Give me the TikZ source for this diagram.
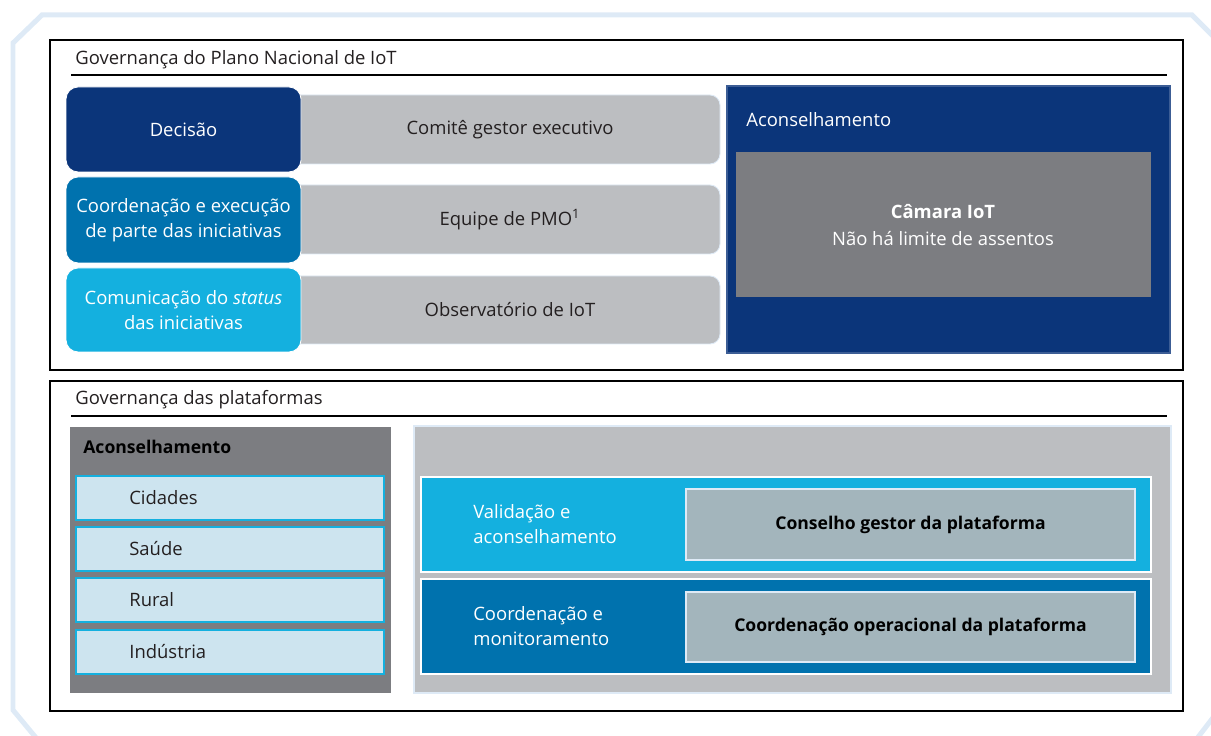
\documentclass[tikz,border=0pt]{standalone}
\usepackage{fontspec}
\setmainfont{Open Sans}
\definecolor{navyblue}{RGB}{11,53,122}
\definecolor{midblue}{RGB}{0,114,174}
\definecolor{cyanblue}{RGB}{20,176,223}
\definecolor{bargray}{RGB}{188,190,193}
\definecolor{panelgray}{RGB}{124,125,129}
\definecolor{paleblue}{RGB}{205,228,239}
\definecolor{boxgray}{RGB}{163,181,188}
\definecolor{framecolor}{RGB}{222,234,246}
\definecolor{inkcolor}{RGB}{35,31,32}

\begin{document}
\begin{tikzpicture}[x=0.02cm,y=-0.02cm,font=\fontsize{10.5}{14.2}\selectfont,
    tabbox/.style={rounded corners=0.24cm,draw=white,line width=0.5pt},
    barbox/.style={rounded corners=0.2cm,fill=bargray,draw=framecolor,line width=0.5pt},
    listbox/.style={fill=paleblue,draw=cyanblue,line width=0.6pt},
    rowbox/.style={draw=white,line width=1pt},
    innerbox/.style={fill=boxgray,draw=framecolor,line width=0.6pt}]
  \useasboundingbox (0,0) rectangle (1211,736);
  % background frame:
  \draw[line width=0.1cm,framecolor] (13,43) -- (42,15) -- (1192,15) -- (1222,45)
    -- (1222,706) -- (1192,745) -- (42,745) -- (13,710) -- cycle;

  % plano nacional:
  \draw[line width=0.6pt] (50,40) rectangle (1183,370);
  \node[anchor=base west,inner sep=0pt,text=inkcolor] (plantitle) at (75,65) {Governança do Plano Nacional de IoT};
  \draw[line width=0.6pt] (71,75) -- (1167,75);
  \foreach \i/\ya/\yb/\ga/\gb/\col/\tabtext/\bartext in {
      1/87/172/95/164/navyblue/{Decisão}/{Comitê gestor executivo},
      2/177/263/185/254/midblue/{Coordenação e execução\\de parte das iniciativas}/{Equipe de PMO\textsuperscript{1}},
      3/268/352/276/344/cyanblue/{Comunicação do \textit{status}\\das iniciativas}/{Observatório de IoT}}
  {
    \draw[barbox] (280,\ga) rectangle (720,\gb);
    \node[text=inkcolor] (bar\i) at (510,{(\ga+\gb)/2}) {\bartext};
    \draw[tabbox,fill=\col] (66,\ya) rectangle (301,\yb);
    \node[text=white,align=center] (tab\i) at (183.5,{(\ya+\yb)/2}) {\tabtext};
  }
  \draw[fill=navyblue,draw=navyblue!80!white,line width=0.6pt] (727,86) rectangle (1170,353);
  \node[anchor=base west,inner sep=0pt,text=white] (advtitle) at (746,127) {Aconselhamento};
  \fill[panelgray] (736,152) rectangle (1151,297);
  \node[text=white,align=center,font=\fontsize{10.5}{15.5}\selectfont] (camara) at (943,225) {\textbf{Câmara IoT}\\Não há limite de assentos};

  % plataformas:
  \draw[line width=0.6pt] (50,381) rectangle (1183,711);
  \node[anchor=base west,inner sep=0pt,text=inkcolor] (plattitle) at (75,405) {Governança das plataformas};
  \draw[line width=0.6pt] (71,416) -- (1167,416);
  \fill[panelgray] (70,427) rectangle (391,693);
  \node[anchor=base west,inner sep=0pt,text=black,font=\fontsize{10}{14}\selectfont] (platadv) at (83,454) {\textbf{Aconselhamento}};
  \foreach \i/\y/\sector in {1/476/Cidades, 2/527/Saúde, 3/578/Rural, 4/630/Indústria}
  {
    \draw[listbox] (76,\y) rectangle (384,\y+44);
    \node[anchor=west,inner sep=0pt,text=inkcolor] (sector\i) at (129,\y+22) {\sector};
  }
  \draw[fill=bargray,draw=framecolor,line width=0.6pt] (414,426) rectangle (1171,693);
  \foreach \i/\ya/\yb/\ia/\ib/\col/\rowtext/\boxtext in {
      1/477/572/489/560/cyanblue/{Validação e\\aconselhamento}/{Conselho gestor da plataforma},
      2/579/674/592/662/midblue/{Coordenação e\\monitoramento}/{Coordenação operacional da plataforma}}
  {
    \draw[rowbox,fill=\col] (421,\ya) rectangle (1151,\yb);
    \node[anchor=west,inner sep=0pt,align=left,text=white] (row\i) at (473,{(\ya+\yb)/2}) {\rowtext};
    \draw[innerbox] (686,\ia) rectangle (1135,\ib);
    \node[text=black,font=\fontsize{10}{14}\selectfont] (platbox\i) at (910.5,{(\ia+\ib)/2}) {\textbf{\boxtext}};
  }
\end{tikzpicture}
\end{document}
